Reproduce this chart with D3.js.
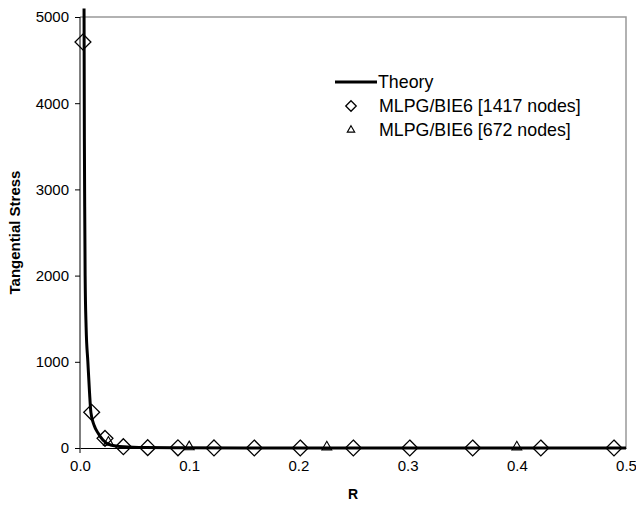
<!DOCTYPE html>
<html>
<head>
<meta charset="utf-8">
<script src="https://cdn.jsdelivr.net/npm/d3@7"></script>
<style>
  body { margin: 0; background: #fff; }
  text { font-family: Arial, "Liberation Sans", sans-serif; }
</style>
</head>
<body>
<div id="chart"></div>
<script>
const FRAME_WIDTH = 636;
const FRAME_HEIGHT = 511;
const MARGINS = {left: 80, right: 10, top: 17, bottom: 63};

// theory curve
const theoryR = [0.0037, 0.0040, 0.0043, 0.0047, 0.0056, 0.0072, 0.0087, 0.0100, 0.0130, 0.0165, 0.0210, 0.0280, 0.0400, 0.0600, 0.0900, 0.1500, 0.5000];
const theoryS = [5100, 3600, 2800, 2000, 1400, 1000, 650, 410, 260, 174, 93, 35, 14, 5, 2, 0, 0];

// MLPG/BIE6 [1417 nodes]
const fineR = [0.0027, 0.0107, 0.0229, 0.0397, 0.0620, 0.0897, 0.1227, 0.1596, 0.2017, 0.2503, 0.3020, 0.3596, 0.4220, 0.4890];
const fineS = [4710, 414, 112, 15, 4, 2, 1, 0, 0, 0, 0, 0, 0, 0];

// MLPG/BIE6 [672 nodes]
const coarseR = [0.0260, 0.1000, 0.2260, 0.4000];
const coarseS = [55, 2, 0, 0];

const xTicks = [0, 0.1, 0.2, 0.3, 0.4, 0.5];
const yTicks = [0, 1000, 2000, 3000, 4000, 5000];
const legendLabels = ["Theory", "MLPG/BIE6 [1417 nodes]", "MLPG/BIE6 [672 nodes]"];

const VIS_WIDTH = FRAME_WIDTH - MARGINS.left - MARGINS.right;
const VIS_HEIGHT = FRAME_HEIGHT - MARGINS.top - MARGINS.bottom;

const FRAME1 = d3.select("#chart")
  .append("svg")
    .attr("width", FRAME_WIDTH)
    .attr("height", FRAME_HEIGHT);

const x = d3.scaleLinear().domain([0, 0.5]).range([MARGINS.left, MARGINS.left + VIS_WIDTH]);
const y = d3.scaleLinear().domain([0, 5000]).range([MARGINS.top + VIS_HEIGHT, MARGINS.top]);

// plot border (top and right, grey)
FRAME1.append("path")
  .attr("d", "M" + x(0) + "," + y(5000) + "H" + x(0.5) + "V" + y(0))
  .attr("fill", "none")
  .attr("stroke", "#999")
  .attr("stroke-width", 1.5);

// Y axis
const yAxis = FRAME1.append("g")
  .attr("transform", "translate(" + x(0) + ",0)")
  .call(d3.axisLeft(y).tickValues(yTicks).tickSize(5).tickSizeOuter(0).tickFormat(d3.format("d")));
yAxis.select(".domain").attr("d", "M0," + y(5000) + "V" + (y(0) + 5));
yAxis.selectAll("text").attr("font-size", 15).attr("font-family", "Arial, 'Liberation Sans', sans-serif").attr("fill", "#000").attr("dx", -3);

// X axis
const xAxis = FRAME1.append("g")
  .attr("transform", "translate(0," + y(0) + ")")
  .call(d3.axisBottom(x).tickValues(xTicks).tickSize(0).tickSizeOuter(0).tickFormat(d3.format(".1f")));
xAxis.selectAll("text").attr("font-size", 15).attr("font-family", "Arial, 'Liberation Sans', sans-serif").attr("fill", "#000").attr("dy", "1.3em");

// axis titles
FRAME1.append("text")
  .attr("x", x(0.25))
  .attr("y", 499)
  .attr("text-anchor", "middle")
  .attr("font-size", 14)
  .attr("font-weight", "bold")
  .text("R");

FRAME1.append("text")
  .attr("transform", "translate(20," + y(2500) + ") rotate(-90)")
  .attr("text-anchor", "middle")
  .attr("font-size", 15)
  .attr("font-weight", "bold")
  .text("Tangential Stress");

const diamond = d3.symbol().type(d3.symbolDiamond2).size(160);
const triangle = d3.symbol().type(d3.symbolTriangle2).size(70);

// theory line
const line = d3.line()
  .x((d) => x(d[0]))
  .y((d) => y(d[1]))
  .curve(d3.curveMonotoneX);

FRAME1.append("path")
  .datum(theoryR.map((r, i) => [r, theoryS[i]]))
  .attr("d", line)
  .attr("fill", "none")
  .attr("stroke", "#000")
  .attr("stroke-width", 3);

// markers
FRAME1.append("g")
  .selectAll("path")
  .data(fineR.map((r, i) => [r, fineS[i]]))
  .enter()
  .append("path")
    .attr("d", diamond)
    .attr("transform", (d) => "translate(" + x(d[0]) + "," + y(d[1]) + ")")
    .attr("fill", "none")
    .attr("stroke", "#000")
    .attr("stroke-width", 1.3);

FRAME1.append("g")
  .selectAll("path")
  .data(coarseR.map((r, i) => [r, coarseS[i]]))
  .enter()
  .append("path")
    .attr("d", triangle)
    .attr("transform", (d) => "translate(" + x(d[0]) + "," + (y(d[1]) - 1) + ")")
    .attr("fill", "none")
    .attr("stroke", "#000")
    .attr("stroke-width", 1.1);

// legend
const LEG_X = 335;
const LEG_Y = 82;
const LEG_STEP = 24;
const legend = FRAME1.append("g");

legend.append("line")
  .attr("x1", LEG_X).attr("x2", LEG_X + 42)
  .attr("y1", LEG_Y).attr("y2", LEG_Y)
  .attr("stroke", "#000").attr("stroke-width", 3);
legend.append("path")
  .attr("d", d3.symbol().type(d3.symbolDiamond2).size(70))
  .attr("transform", "translate(" + (LEG_X + 16) + "," + (LEG_Y + LEG_STEP) + ")")
  .attr("fill", "none").attr("stroke", "#000").attr("stroke-width", 1.3);
legend.append("path")
  .attr("d", d3.symbol().type(d3.symbolTriangle2).size(40))
  .attr("transform", "translate(" + (LEG_X + 16) + "," + (LEG_Y + 2 * LEG_STEP) + ")")
  .attr("fill", "none").attr("stroke", "#000").attr("stroke-width", 1.1);

legend.selectAll("text")
  .data(legendLabels)
  .enter()
  .append("text")
    .attr("x", (d, i) => i === 0 ? LEG_X + 43 : LEG_X + 44)
    .attr("y", (d, i) => LEG_Y + i * LEG_STEP)
    .attr("dy", "0.35em")
    .attr("font-size", 17.8)
    .text((d) => d);
</script>
</body>
</html>
